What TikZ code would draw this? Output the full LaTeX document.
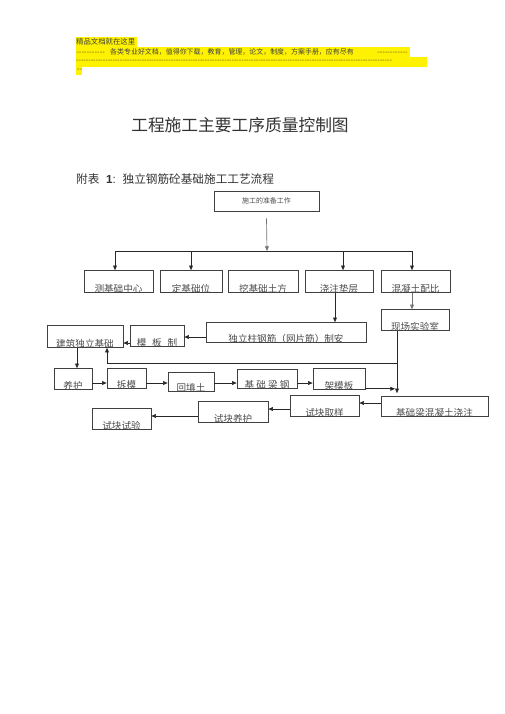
\documentclass[tikz,border=0pt]{standalone}
\usepackage{fontspec}
\setmainfont{Liberation Sans}
\newfontfamily\cjk{Noto Sans CJK SC}
\usetikzlibrary{arrows.meta,calc}
\newcommand\dashfill[1]{\hbox to #1{\xleaders\hbox{-}\hfill}}

\begin{document}
\begin{tikzpicture}[x=1.178pt,y=-1.178pt,
  flowarrow/.style={draw=black!85,line width=0.8pt,-{Triangle[length=5.5pt,width=4.5pt]}},
  workbox/.style 2 args={draw=black!75,line width=0.7pt,inner sep=0pt,text=black!70,
    font=\cjk\fontsize{11.3}{11}\selectfont,
    minimum width=#1*1.178pt,minimum height=#2*1.178pt,
    text height=(#2+1)*1.178pt,text depth=-2*1.178pt},
  headtext/.style={anchor=base west,inner sep=0pt,text=black!75,font=\cjk\fontsize{8.2}{9}\selectfont}]
\fill [white] (0,0) rectangle (505,714);
\useasboundingbox (0,0) rectangle (505,714);
\fill [yellow] (76,37) rectangle (137,46.5);
\fill [yellow] (76,46.5) rectangle (410,57.5);
\fill [yellow] (76,57) rectangle (427,66.5);
\fill [yellow] (76,66) rectangle (82,75);
\node [headtext,font=\cjk\fontsize{8.7}{9}\selectfont] (note) at (76,44.5) {精品文档就在这里};
\node [headtext] (dashA) at (76,54.5) {\dashfill{34pt}};
\node [headtext] (ad) at (110,54.5) {各类专业好文档，值得你下载，教育，管理，论文，制度，方案手册，应有尽有};
\node [headtext] (dashB) at (377,54.5) {\dashfill{36pt}};
\node [headtext] (dashC) at (76,62.5) {\dashfill{372pt}};
\node [headtext] (dashD) at (77,71.5) {--};
\node [text=black!80,font=\cjk\fontsize{19.7}{20}\selectfont] (title) at (240,125) {工程施工主要工序质量控制图};
\node [anchor=west,inner sep=0pt,text=black!80,font=\fontsize{13.7}{14}\selectfont] (sub) at (76,179)
  {{\cjk 附表}\hspace{8pt}\textbf{1}:\hspace{8pt}{\cjk 独立钢筋砼基础施工工艺流程}};
\node [draw=black!75,line width=0.7pt,inner sep=0pt,text=black!70,font=\cjk\fontsize{8.2}{9}\selectfont,
  minimum width=105*1.178pt,minimum height=20*1.178pt] (prep) at (266.5,201) {施工的准备工作};
\node [workbox={69}{21}] (c1) at (118.5,281.5) {测基础中心};
\node [workbox={62}{21}] (c2) at (191,281.5) {定基础位};
\node [workbox={70}{21}] (c3) at (263,281.5) {挖基础土方};
\node [workbox={68}{21}] (c4) at (339,281.5) {浇注垫层};
\node [workbox={69}{21}] (c5) at (415.5,281.5) {混凝土配比};
\node [workbox={68}{20}] (xc) at (415,320) {现场实验室};
\node [workbox={160}{19}] (dz) at (286,332.5) {独立柱钢筋（网片筋）制安};
\node [workbox={54}{20}] (mb) at (157,336) {模\hspace{0.6em}板\hspace{0.6em}制};
\node [workbox={76}{21}] (jz) at (85,336.5) {建筑独立基础};
\node [workbox={38}{20}] (yh) at (73,379) {养护};
\node [workbox={39}{19}] (cm) at (126.5,378.5) {拆模};
\node [workbox={46}{18}] (ht) at (191,382) {回填土};
\node [workbox={60}{18}] (jg) at (267,379) {基 础 梁 钢};
\node [workbox={52}{20}] (jm) at (339,379) {架模板};
\node [workbox={107}{19}] (jl) at (434.5,406.5) {基础梁混凝土浇注};
\node [workbox={69}{20}] (qy) at (324.5,406) {试块取样};
\node [workbox={70}{20}] (sy) at (233,412) {试块养护};
\node [workbox={59}{20}] (ss) at (121.5,419) {试块试验};
\coordinate (split) at (267,251);
\coordinate (lab) at (397,363);
\draw [flowarrow,draw=black!55] ($(prep.south)+(0,7)$) -- (split);
\draw [black!85,line width=0.8pt] ($(c1.north |- split)+(-3.5,0)$) -- ($(c5.north |- split)+(-3.5,0)$);
\foreach \n/\dx in {c1/-3.5,c2/0,c4/4,c5/-3.5}
  \draw [flowarrow] ($(\n.north |- split)+(\dx,0)$) -- ($(\n.north)+(\dx,0)$);
\draw [flowarrow] ($(c4.south)+(-4,0)$) -- ($(c4.south |- dz.north)+(-4,0)$);
\draw [flowarrow,draw=black!55] ($(c5.south)+(-3.5,0)$) -- ($(c5.south |- xc.north)+(-3.5,0)$);
\draw [flowarrow] ($(dz.west)+(0,4.5)$) -- ($(dz.west -| mb.east)+(0,4.5)$);
\draw [flowarrow] ($(mb.west)+(0,7)$) -- ($(mb.west -| jz.east)+(0,7)$);
\draw [flowarrow] (xc.south -| lab) -- (lab) -| ($(jz.south)+(22,0)$);
\draw [flowarrow] (lab) -- ($(jl.north -| lab)+(0,-3)$);
\draw [flowarrow] ($(jm.south east)+(0,-1)$) -- ($(lab |- jm.south east)+(-2,-1)$);
\draw [flowarrow] ($(jz.south)+(-8,0)$) -- ($(jz.south |- yh.north)+(-8,0)$);
\foreach \a/\b in {yh/cm,cm/ht,ht/jg,jg/jm}
  \draw [flowarrow] ($(\a.east |- yh.east)+(0,4)$) -- ($(\b.west |- yh.east)+(0,4)$);
\draw [flowarrow] ($(jl.west)+(0,-3.5)$) -- ($(jl.west -| qy.east)+(0,-3.5)$);
\draw [flowarrow] ($(qy.west)+(0,3)$) -- ($(qy.west -| sy.east)+(0,3)$);
\draw [flowarrow] ($(sy.west)+(0,4)$) -- ($(sy.west -| ss.east)+(0,4)$);
\end{tikzpicture}
\end{document}
